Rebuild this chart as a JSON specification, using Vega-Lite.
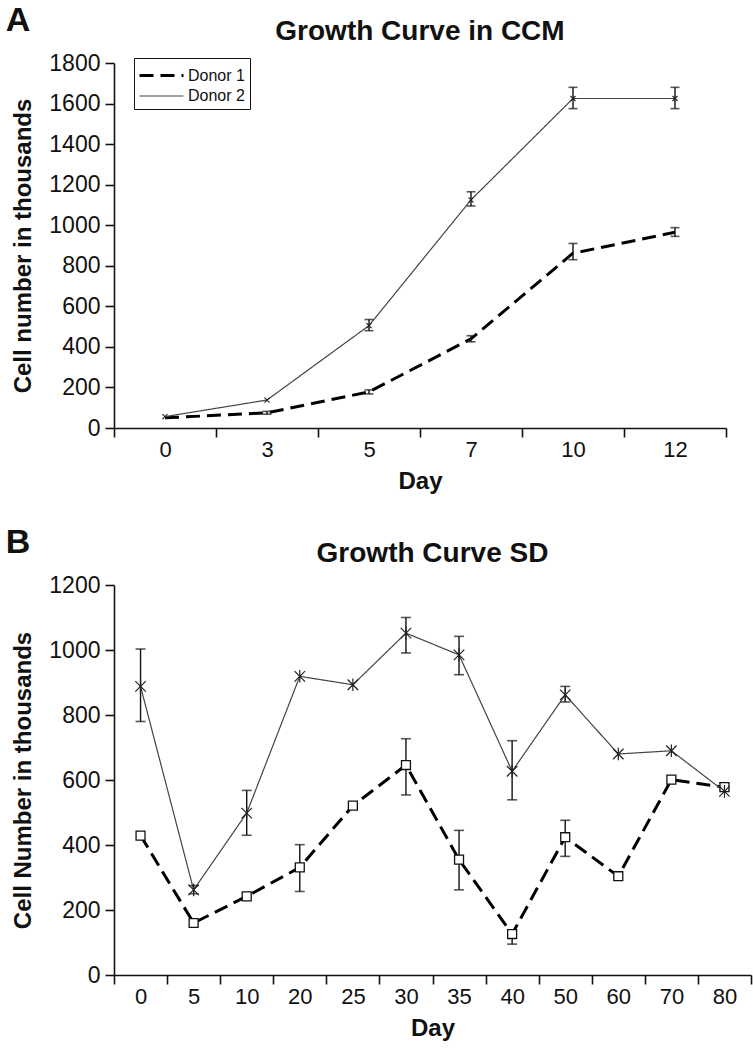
{
  "$schema": "https://vega.github.io/schema/vega-lite/v6.json",
  "background": "white",
  "padding": {"left": 5, "top": 4, "right": 2, "bottom": 2},
  "config": {
    "font": "Liberation Sans",
    "view": {"stroke": null},
    "axis": {"grid": false, "domainColor": "#111", "domainWidth": 1.6, "tickColor": "#111", "tickWidth": 1.6, "tickSize": 9, "labelFontSize": 23, "labelColor": "#111", "titleFontSize": 24, "titleFontWeight": "bold", "titleColor": "#111", "labelPadding": 5, "format": "d"},
    "axisX": {"labelPadding": 2, "titlePadding": 9, "labelFontSize": 22},
    "axisY": {"titlePadding": 13},
    "title": {"fontSize": 28, "fontWeight": "bold", "color": "#111"},
    "legend": {"strokeColor": "#111", "padding": 5, "labelFontSize": 16, "labelColor": "#111", "symbolType": "M-2,0L2,0", "symbolSize": 484, "symbolOffset": 10, "rowPadding": 0, "labelOffset": 14}
  },
  "datasets": {
    "ccm": [
      {"day": 0, "donor": "Donor 1", "value": 50, "lo": null, "hi": null},
      {"day": 3, "donor": "Donor 1", "value": 75, "lo": 68, "hi": 82},
      {"day": 5, "donor": "Donor 1", "value": 178, "lo": 168, "hi": 188},
      {"day": 7, "donor": "Donor 1", "value": 440, "lo": 425, "hi": 455},
      {"day": 10, "donor": "Donor 1", "value": 862, "lo": 830, "hi": 910},
      {"day": 12, "donor": "Donor 1", "value": 965, "lo": 945, "hi": 988},
      {"day": 0, "donor": "Donor 2", "value": 56, "lo": null, "hi": null},
      {"day": 3, "donor": "Donor 2", "value": 138, "lo": null, "hi": null},
      {"day": 5, "donor": "Donor 2", "value": 505, "lo": 480, "hi": 535},
      {"day": 7, "donor": "Donor 2", "value": 1125, "lo": 1095, "hi": 1165},
      {"day": 10, "donor": "Donor 2", "value": 1625, "lo": 1575, "hi": 1680},
      {"day": 12, "donor": "Donor 2", "value": 1625, "lo": 1575, "hi": 1680}
    ],
    "sd": [
      {"day": 0, "donor": "Donor 1", "value": 429, "lo": null, "hi": null},
      {"day": 5, "donor": "Donor 1", "value": 160, "lo": null, "hi": null},
      {"day": 10, "donor": "Donor 1", "value": 242, "lo": null, "hi": null},
      {"day": 20, "donor": "Donor 1", "value": 331, "lo": 257, "hi": 401},
      {"day": 25, "donor": "Donor 1", "value": 521, "lo": null, "hi": null},
      {"day": 30, "donor": "Donor 1", "value": 646, "lo": 554, "hi": 727},
      {"day": 35, "donor": "Donor 1", "value": 355, "lo": 262, "hi": 445},
      {"day": 40, "donor": "Donor 1", "value": 126, "lo": 95, "hi": 139},
      {"day": 50, "donor": "Donor 1", "value": 424, "lo": 365, "hi": 476},
      {"day": 60, "donor": "Donor 1", "value": 304, "lo": null, "hi": null},
      {"day": 70, "donor": "Donor 1", "value": 601, "lo": null, "hi": null},
      {"day": 80, "donor": "Donor 1", "value": 578, "lo": 570, "hi": 590},
      {"day": 0, "donor": "Donor 2", "value": 888, "lo": 780, "hi": 1003},
      {"day": 5, "donor": "Donor 2", "value": 262, "lo": 250, "hi": 275},
      {"day": 10, "donor": "Donor 2", "value": 498, "lo": 430, "hi": 568},
      {"day": 20, "donor": "Donor 2", "value": 919, "lo": null, "hi": null},
      {"day": 25, "donor": "Donor 2", "value": 893, "lo": null, "hi": null},
      {"day": 30, "donor": "Donor 2", "value": 1052, "lo": 991, "hi": 1100},
      {"day": 35, "donor": "Donor 2", "value": 985, "lo": 924, "hi": 1042},
      {"day": 40, "donor": "Donor 2", "value": 627, "lo": 539, "hi": 721},
      {"day": 50, "donor": "Donor 2", "value": 862, "lo": 840, "hi": 888},
      {"day": 60, "donor": "Donor 2", "value": 680, "lo": null, "hi": null},
      {"day": 70, "donor": "Donor 2", "value": 690, "lo": null, "hi": null},
      {"day": 80, "donor": "Donor 2", "value": 565, "lo": null, "hi": null}
    ]
  },
  "spacing": 33,
  "vconcat": [
    {
      "title": {"text": "A", "anchor": "start", "fontSize": 34, "dy": 20, "dx": -6, "offset": 0},
      "vconcat": [
        {
          "width": 612,
          "height": 365,
          "title": {"text": "Growth Curve in CCM", "anchor": "middle", "offset": 6},
          "data": {"name": "ccm"},
          "encoding": {
            "x": {"field": "day", "type": "ordinal", "sort": "ascending", "scale": {"paddingInner": 0, "paddingOuter": 0}, "axis": {"title": "Day", "labelAngle": 0, "tickBand": "extent"}}
          },
          "layer": [
            {
              "mark": {"type": "line", "strokeCap": "butt"},
              "encoding": {
                "y": {"field": "value", "type": "quantitative", "scale": {"domain": [0, 1800]}, "axis": {"title": "Cell number in thousands", "values": [0, 200, 400, 600, 800, 1000, 1200, 1400, 1600, 1800]}},
                "strokeDash": {"field": "donor", "type": "nominal", "scale": {"domain": ["Donor 1", "Donor 2"], "range": [[14, 7], [1, 0]]}, "legend": {"title": null, "orient": "none", "legendX": 20, "legendY": -5}},
                "strokeWidth": {"field": "donor", "type": "nominal", "scale": {"domain": ["Donor 1", "Donor 2"], "range": [3, 1.2]}, "legend": {"title": null, "orient": "none", "legendX": 20, "legendY": -5}},
                "color": {"field": "donor", "type": "nominal", "scale": {"domain": ["Donor 1", "Donor 2"], "range": ["#000000", "#444444"]}, "legend": {"title": null, "orient": "none", "legendX": 20, "legendY": -5}}
              }
            },
            {
              "mark": {"type": "rule", "color": "#111", "strokeWidth": 1.4},
              "encoding": {"y": {"field": "lo", "type": "quantitative"}, "y2": {"field": "hi"}}
            },
            {
              "mark": {"type": "tick", "color": "#111", "size": 9, "thickness": 1.6},
              "encoding": {"y": {"field": "lo", "type": "quantitative"}}
            },
            {
              "mark": {"type": "tick", "color": "#111", "size": 9, "thickness": 1.6},
              "encoding": {"y": {"field": "hi", "type": "quantitative"}}
            },
            {
              "transform": [{"filter": "datum.donor == 'Donor 2'"}],
              "mark": {"type": "point", "shape": "M-1,-1L1,1M1,-1L-1,1", "size": 25, "filled": false, "stroke": "#222", "strokeWidth": 1.1, "opacity": 1},
              "encoding": {"y": {"field": "value", "type": "quantitative"}}
            }
          ]
        }
      ]
    },
    {
      "title": {"text": "B", "anchor": "start", "fontSize": 34, "dy": 20, "dx": -6, "offset": 0},
      "vconcat": [
        {
          "width": 637,
          "height": 390,
          "title": {"text": "Growth Curve SD", "anchor": "middle", "offset": 6},
          "data": {"name": "sd"},
          "encoding": {
            "x": {"field": "day", "type": "ordinal", "sort": "ascending", "scale": {"paddingInner": 0, "paddingOuter": 0}, "axis": {"title": "Day", "labelAngle": 0, "tickBand": "extent"}}
          },
          "layer": [
            {
              "mark": {"type": "line", "strokeCap": "butt"},
              "encoding": {
                "y": {"field": "value", "type": "quantitative", "scale": {"domain": [0, 1200]}, "axis": {"title": "Cell Number in thousands", "values": [0, 200, 400, 600, 800, 1000, 1200]}},
                "strokeDash": {"field": "donor", "type": "nominal", "scale": {"domain": ["Donor 1", "Donor 2"], "range": [[14, 7], [1, 0]]}, "legend": {"title": null, "orient": "none", "legendX": 26, "legendY": -9}},
                "strokeWidth": {"field": "donor", "type": "nominal", "scale": {"domain": ["Donor 1", "Donor 2"], "range": [3, 1.2]}, "legend": {"title": null, "orient": "none", "legendX": 26, "legendY": -9}},
                "color": {"field": "donor", "type": "nominal", "scale": {"domain": ["Donor 1", "Donor 2"], "range": ["#000000", "#444444"]}, "legend": {"title": null, "orient": "none", "legendX": 26, "legendY": -9}}
              }
            },
            {
              "mark": {"type": "rule", "color": "#111", "strokeWidth": 1.4},
              "encoding": {"y": {"field": "lo", "type": "quantitative"}, "y2": {"field": "hi"}}
            },
            {
              "mark": {"type": "tick", "color": "#111", "size": 10, "thickness": 1.6},
              "encoding": {"y": {"field": "lo", "type": "quantitative"}}
            },
            {
              "mark": {"type": "tick", "color": "#111", "size": 10, "thickness": 1.6},
              "encoding": {"y": {"field": "hi", "type": "quantitative"}}
            },
            {
              "transform": [{"filter": "datum.donor == 'Donor 1'"}],
              "mark": {"type": "point", "shape": "square", "size": 80, "filled": true, "fill": "white", "stroke": "#111", "strokeWidth": 1.3, "opacity": 1},
              "encoding": {"y": {"field": "value", "type": "quantitative"}}
            },
            {
              "transform": [{"filter": "datum.donor == 'Donor 2'"}],
              "mark": {"type": "point", "shape": "M-1,-1L1,1M1,-1L-1,1M0,-1.2L0,1.2", "size": 110, "filled": false, "stroke": "#222", "strokeWidth": 1.2, "opacity": 1},
              "encoding": {"y": {"field": "value", "type": "quantitative"}}
            }
          ]
        }
      ]
    }
  ]
}
